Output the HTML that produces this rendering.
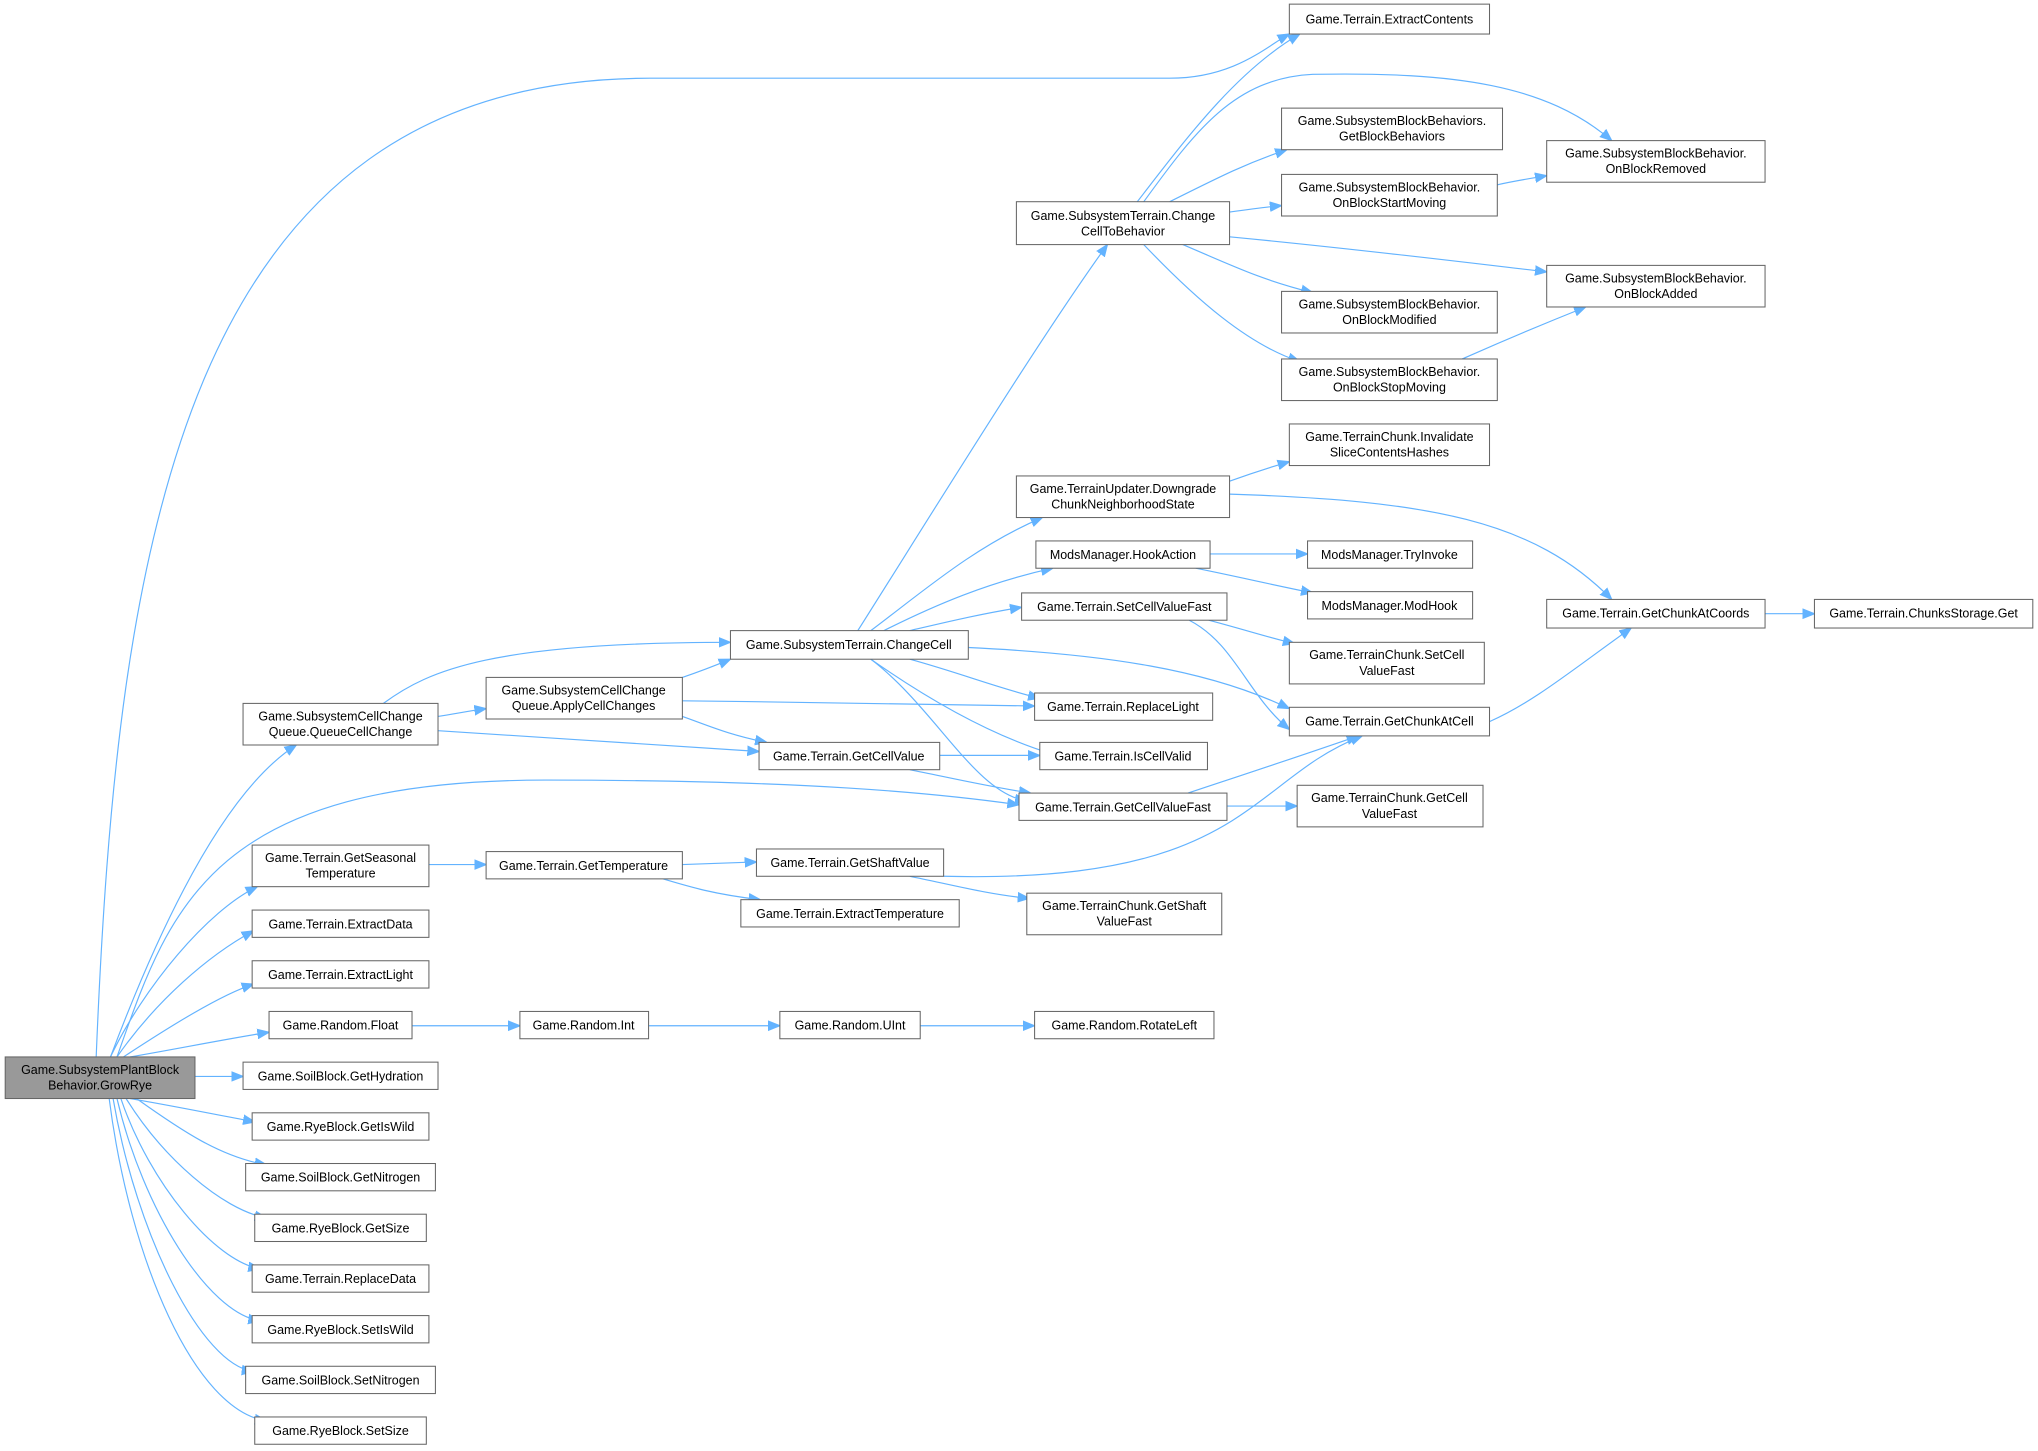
<!DOCTYPE html>
<html><head><meta charset="utf-8"><style>
html,body{margin:0;padding:0;background:#fff;}
svg{display:block;}
text{font-family:"Liberation Sans",Arial,sans-serif;font-size:9.6px;fill:#000;}
.n{fill:#fff;stroke:#666;stroke-width:0.8;}
.e{fill:none;stroke:#63b3ff;stroke-width:0.9;}
</style></head><body>
<svg width="2038" height="1451" viewBox="0 0 1568 1116" xmlns="http://www.w3.org/2000/svg">
<defs><marker id="a" viewBox="0 0 10 10" refX="10" refY="5" markerWidth="9" markerHeight="9" markerUnits="userSpaceOnUse" orient="auto"><path d="M0,1 L10,5 L0,9 z" fill="#63b3ff" stroke="#63b3ff"/></marker></defs>
<g class="e" marker-end="url(#a)">
<!-- GrowRye fan -->
<path d="M74,813 C90,420 140,60 500,60 L900,60 C950,60 975,35 992,26"/>
<path d="M85,813 C120,720 170,610 228,573"/>
<path d="M90,813 C130,700 160,600 420,600 C620,600 720,610 784,619"/>
<path d="M85,813 C110,760 160,700 198,682"/>
<path d="M90,813 C120,770 160,735 195,716"/>
<path d="M95,813 C130,790 170,765 195,757"/>
<path d="M100,813 C130,808 180,798 207,794"/>
<path d="M150,828 L187,828"/>
<path d="M100,845 C130,850 180,860 196,863"/>
<path d="M105,845 C140,870 170,890 205,896"/>
<path d="M97,845 C125,890 170,930 205,937"/>
<path d="M93,845 C115,910 165,970 200,976"/>
<path d="M90,845 C110,930 160,1010 200,1016"/>
<path d="M87,845 C105,950 155,1050 195,1055"/>
<path d="M84,845 C100,970 150,1085 205,1093"/>
<!-- QueueCellChange -->
<path d="M295,541 C330,515 380,494 562,494"/>
<path d="M337,551 C350,549 360,547 374,545"/>
<path d="M337,562 C420,567 500,573 584,578"/>
<!-- ApplyCellChanges -->
<path d="M525,521 C540,516 550,512 562,507"/>
<path d="M525,539 C620,540 720,542 796,543"/>
<path d="M525,551 C545,558 560,565 590,571"/>
<!-- ChangeCell -->
<path d="M660,485 C720,390 800,260 852,188"/>
<path d="M670,485 C710,455 750,420 802,398"/>
<path d="M680,485 C720,465 760,448 810,437"/>
<path d="M700,485 C730,478 755,472 786,467"/>
<path d="M745,498 C850,503 930,515 992,545"/>
<path d="M700,507 C740,518 770,530 800,537"/>
<path d="M670,507 C710,535 760,565 810,580"/>
<path d="M670,507 C720,545 750,610 790,616"/>
<!-- GetCellValue -->
<path d="M723,581 L800,581"/>
<path d="M700,592 C730,598 760,605 793,610"/>
<!-- ChangeCellToBehavior -->
<path d="M875,155 C910,110 950,55 1000,26"/>
<path d="M880,155 C920,100 950,60 1010,57 C1120,55 1190,65 1240,108"/>
<path d="M900,155 C940,135 960,125 990,115"/>
<path d="M946,163 C960,161 975,159 986,158"/>
<path d="M946,182 C1050,192 1130,202 1190,209"/>
<path d="M910,188 C950,205 970,215 1010,225"/>
<path d="M880,188 C920,230 960,265 1000,278"/>
<path d="M1152,142 C1165,139 1178,137 1190,135"/>
<path d="M1125,276 C1150,265 1170,256 1220,236"/>
<!-- Downgrade -->
<path d="M946,370 C960,365 975,360 992,355"/>
<path d="M946,380 C1100,385 1180,400 1240,461"/>
<!-- HookAction -->
<path d="M931,426 L1006,426"/>
<path d="M920,437 C950,443 980,450 1010,456"/>
<!-- SetCellValueFast -->
<path d="M930,477 C960,485 975,490 996,495"/>
<path d="M915,477 C950,495 960,535 992,561"/>
<path d="M1146,555 C1180,540 1210,515 1255,483"/>
<path d="M1358,472 L1396,472"/>
<!-- GetCellValueFast -->
<path d="M914,610 C950,598 990,585 1045,566"/>
<path d="M944,620 L998,620"/>
<!-- temperature chain -->
<path d="M330,665 L374,665"/>
<path d="M525,665 L582,663"/>
<path d="M510,676 C530,682 550,688 585,692"/>
<path d="M700,674 C730,680 760,688 792,691"/>
<path d="M726,674 C960,680 960,600 1048,566"/>
<!-- random chain -->
<path d="M317,789 L400,789"/>
<path d="M499,789 L600,789"/>
<path d="M708,789 L796,789"/>
</g>
<g>
<rect x="4" y="813" width="146" height="32" fill="#999" stroke="#666" stroke-width="0.8"/>
<text x="77" y="826" text-anchor="middle">Game.SubsystemPlantBlock</text><text x="77" y="838" text-anchor="middle">Behavior.GrowRye</text>
</g>
<g>
<rect class="n" x="992" y="3" width="154" height="23"/><text x="1069" y="18" text-anchor="middle">Game.Terrain.ExtractContents</text>
<rect class="n" x="986" y="83" width="170" height="32"/><text x="1071" y="96" text-anchor="middle">Game.SubsystemBlockBehaviors.</text><text x="1071" y="108" text-anchor="middle">GetBlockBehaviors</text>
<rect class="n" x="1190" y="108" width="168" height="32"/><text x="1274" y="121" text-anchor="middle">Game.SubsystemBlockBehavior.</text><text x="1274" y="133" text-anchor="middle">OnBlockRemoved</text>
<rect class="n" x="986" y="134" width="166" height="32"/><text x="1069" y="147" text-anchor="middle">Game.SubsystemBlockBehavior.</text><text x="1069" y="159" text-anchor="middle">OnBlockStartMoving</text>
<rect class="n" x="782" y="155" width="164" height="33"/><text x="864" y="169" text-anchor="middle">Game.SubsystemTerrain.Change</text><text x="864" y="181" text-anchor="middle">CellToBehavior</text>
<rect class="n" x="1190" y="204" width="168" height="32"/><text x="1274" y="217" text-anchor="middle">Game.SubsystemBlockBehavior.</text><text x="1274" y="229" text-anchor="middle">OnBlockAdded</text>
<rect class="n" x="986" y="224" width="166" height="32"/><text x="1069" y="237" text-anchor="middle">Game.SubsystemBlockBehavior.</text><text x="1069" y="249" text-anchor="middle">OnBlockModified</text>
<rect class="n" x="986" y="276" width="166" height="32"/><text x="1069" y="289" text-anchor="middle">Game.SubsystemBlockBehavior.</text><text x="1069" y="301" text-anchor="middle">OnBlockStopMoving</text>
<rect class="n" x="992" y="326" width="154" height="32"/><text x="1069" y="339" text-anchor="middle">Game.TerrainChunk.Invalidate</text><text x="1069" y="351" text-anchor="middle">SliceContentsHashes</text>
<rect class="n" x="782" y="366" width="164" height="32"/><text x="864" y="379" text-anchor="middle">Game.TerrainUpdater.Downgrade</text><text x="864" y="391" text-anchor="middle">ChunkNeighborhoodState</text>
<rect class="n" x="797" y="416" width="134" height="21"/><text x="864" y="430" text-anchor="middle">ModsManager.HookAction</text>
<rect class="n" x="1006" y="416" width="127" height="21"/><text x="1069" y="430" text-anchor="middle">ModsManager.TryInvoke</text>
<rect class="n" x="1006" y="455" width="127" height="21"/><text x="1069" y="469" text-anchor="middle">ModsManager.ModHook</text>
<rect class="n" x="786" y="456" width="158" height="21"/><text x="865" y="470" text-anchor="middle">Game.Terrain.SetCellValueFast</text>
<rect class="n" x="1190" y="461" width="168" height="22"/><text x="1274" y="475" text-anchor="middle">Game.Terrain.GetChunkAtCoords</text>
<rect class="n" x="1396" y="461" width="168" height="22"/><text x="1480" y="475" text-anchor="middle">Game.Terrain.ChunksStorage.Get</text>
<rect class="n" x="992" y="494" width="150" height="32"/><text x="1067" y="507" text-anchor="middle">Game.TerrainChunk.SetCell</text><text x="1067" y="519" text-anchor="middle">ValueFast</text>
<rect class="n" x="562" y="485" width="183" height="22"/><text x="653" y="499" text-anchor="middle">Game.SubsystemTerrain.ChangeCell</text>
<rect class="n" x="374" y="521" width="151" height="32"/><text x="449" y="534" text-anchor="middle">Game.SubsystemCellChange</text><text x="449" y="546" text-anchor="middle">Queue.ApplyCellChanges</text>
<rect class="n" x="187" y="541" width="150" height="32"/><text x="262" y="554" text-anchor="middle">Game.SubsystemCellChange</text><text x="262" y="566" text-anchor="middle">Queue.QueueCellChange</text>
<rect class="n" x="796" y="533" width="137" height="21"/><text x="864" y="547" text-anchor="middle">Game.Terrain.ReplaceLight</text>
<rect class="n" x="992" y="544" width="154" height="22"/><text x="1069" y="558" text-anchor="middle">Game.Terrain.GetChunkAtCell</text>
<rect class="n" x="584" y="571" width="139" height="21"/><text x="653" y="585" text-anchor="middle">Game.Terrain.GetCellValue</text>
<rect class="n" x="800" y="571" width="129" height="21"/><text x="864" y="585" text-anchor="middle">Game.Terrain.IsCellValid</text>
<rect class="n" x="784" y="610" width="160" height="21"/><text x="864" y="624" text-anchor="middle">Game.Terrain.GetCellValueFast</text>
<rect class="n" x="998" y="604" width="143" height="32"/><text x="1069" y="617" text-anchor="middle">Game.TerrainChunk.GetCell</text><text x="1069" y="629" text-anchor="middle">ValueFast</text>
<rect class="n" x="194" y="650" width="136" height="32"/><text x="262" y="663" text-anchor="middle">Game.Terrain.GetSeasonal</text><text x="262" y="675" text-anchor="middle">Temperature</text>
<rect class="n" x="374" y="655" width="151" height="21"/><text x="449" y="669" text-anchor="middle">Game.Terrain.GetTemperature</text>
<rect class="n" x="582" y="653" width="144" height="21"/><text x="654" y="667" text-anchor="middle">Game.Terrain.GetShaftValue</text>
<rect class="n" x="570" y="692" width="168" height="21"/><text x="654" y="706" text-anchor="middle">Game.Terrain.ExtractTemperature</text>
<rect class="n" x="790" y="687" width="150" height="32"/><text x="865" y="700" text-anchor="middle">Game.TerrainChunk.GetShaft</text><text x="865" y="712" text-anchor="middle">ValueFast</text>
<rect class="n" x="194" y="700" width="136" height="21"/><text x="262" y="714" text-anchor="middle">Game.Terrain.ExtractData</text>
<rect class="n" x="194" y="739" width="136" height="21"/><text x="262" y="753" text-anchor="middle">Game.Terrain.ExtractLight</text>
<rect class="n" x="207" y="778" width="110" height="21"/><text x="262" y="792" text-anchor="middle">Game.Random.Float</text>
<rect class="n" x="400" y="778" width="99" height="21"/><text x="449" y="792" text-anchor="middle">Game.Random.Int</text>
<rect class="n" x="600" y="778" width="108" height="21"/><text x="654" y="792" text-anchor="middle">Game.Random.UInt</text>
<rect class="n" x="796" y="778" width="138" height="21"/><text x="865" y="792" text-anchor="middle">Game.Random.RotateLeft</text>
<rect class="n" x="187" y="817" width="150" height="21"/><text x="262" y="831" text-anchor="middle">Game.SoilBlock.GetHydration</text>
<rect class="n" x="194" y="856" width="136" height="21"/><text x="262" y="870" text-anchor="middle">Game.RyeBlock.GetIsWild</text>
<rect class="n" x="189" y="895" width="146" height="21"/><text x="262" y="909" text-anchor="middle">Game.SoilBlock.GetNitrogen</text>
<rect class="n" x="196" y="934" width="132" height="21"/><text x="262" y="948" text-anchor="middle">Game.RyeBlock.GetSize</text>
<rect class="n" x="194" y="973" width="136" height="21"/><text x="262" y="987" text-anchor="middle">Game.Terrain.ReplaceData</text>
<rect class="n" x="194" y="1012" width="136" height="21"/><text x="262" y="1026" text-anchor="middle">Game.RyeBlock.SetIsWild</text>
<rect class="n" x="189" y="1051" width="146" height="21"/><text x="262" y="1065" text-anchor="middle">Game.SoilBlock.SetNitrogen</text>
<rect class="n" x="196" y="1090" width="132" height="21"/><text x="262" y="1104" text-anchor="middle">Game.RyeBlock.SetSize</text>
</g>
</svg>
</body></html>
